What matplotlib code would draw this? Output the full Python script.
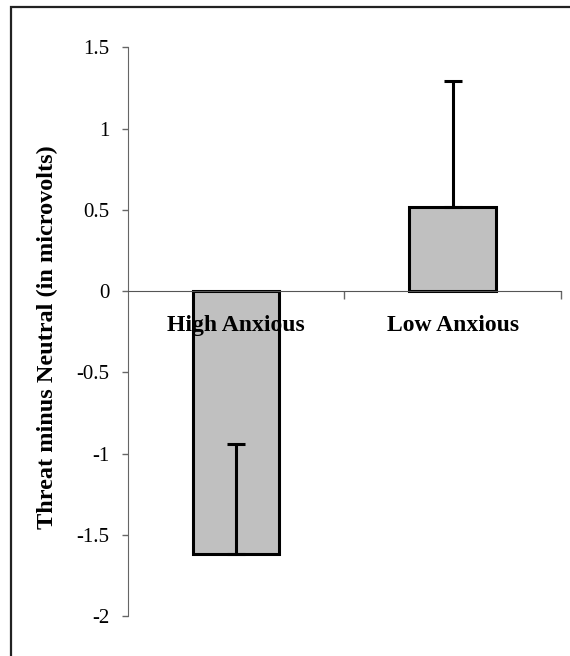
import matplotlib
matplotlib.use("Agg")
import matplotlib.pyplot as plt
from matplotlib.patches import Rectangle

# group means and (one-sided) error bars
groups = ["High Anxious", "Low Anxious"]
means = [-1.62, 0.52]
errs = [0.68, 0.77]
yticks = [-2, -1.5, -1, -0.5, 0, 0.5, 1, 1.5]
ytick_labels = ["-2", "-1.5", "-1", "-0.5", "0", "0.5", "1", "1.5"]

plt.rcParams['font.family'] = ['Liberation Serif', 'DejaVu Serif']

fig = plt.figure(figsize=(5.70, 6.56), dpi=100)
ax = fig.add_axes([127.7/570, 40/656, (561-127.7)/570, (616-47.3)/656])

x = list(range(len(groups)))
ax.bar(x, means, width=0.4, color='#c0c0c0', edgecolor='black', linewidth=2.2, zorder=2)
# only the upper half of each error bar is drawn
ax.errorbar(x, means, yerr=[[0]*len(errs), errs], fmt='none', ecolor='black',
            elinewidth=2.2, capsize=6.5, capthick=2.2, zorder=3)

ax.set_xlim(-0.5, 1.5)
ax.set_ylim(-2, 1.5)
ax.set_yticks(yticks)
ax.set_yticklabels(ytick_labels, fontsize=15)
ax.tick_params(axis='y', direction='out', length=4, width=1, color='#666666', pad=9)

# x axis sits at zero, with tick marks between categories
ax.spines['top'].set_visible(False)
ax.spines['right'].set_visible(False)
ax.spines['bottom'].set_position(('data', 0))
ax.spines['bottom'].set_color('#555555')
ax.spines['left'].set_color('#666666')
ax.set_xticks([0.5, 1.5])
ax.set_xticklabels([])
ax.tick_params(axis='x', direction='out', length=6, width=1, color='#666666')

for xi, g in zip(x, groups):
    ax.text(xi, -0.215, g, ha='center', va='center', fontsize=17, fontweight='bold', zorder=4)

ax.set_ylabel("Threat minus Neutral (in microvolts)", fontsize=17.5, fontweight='bold')
ax.yaxis.set_label_coords(-0.16, 0.49)

# outer frame (only the top and left edges fall inside the image)
fig.add_artist(Rectangle((11/570, -0.2), 1.5, 1.2 - 7/656, transform=fig.transFigure,
                         fill=False, edgecolor='#222222', linewidth=1.6))

plt.savefig("out.png", dpi=100)
